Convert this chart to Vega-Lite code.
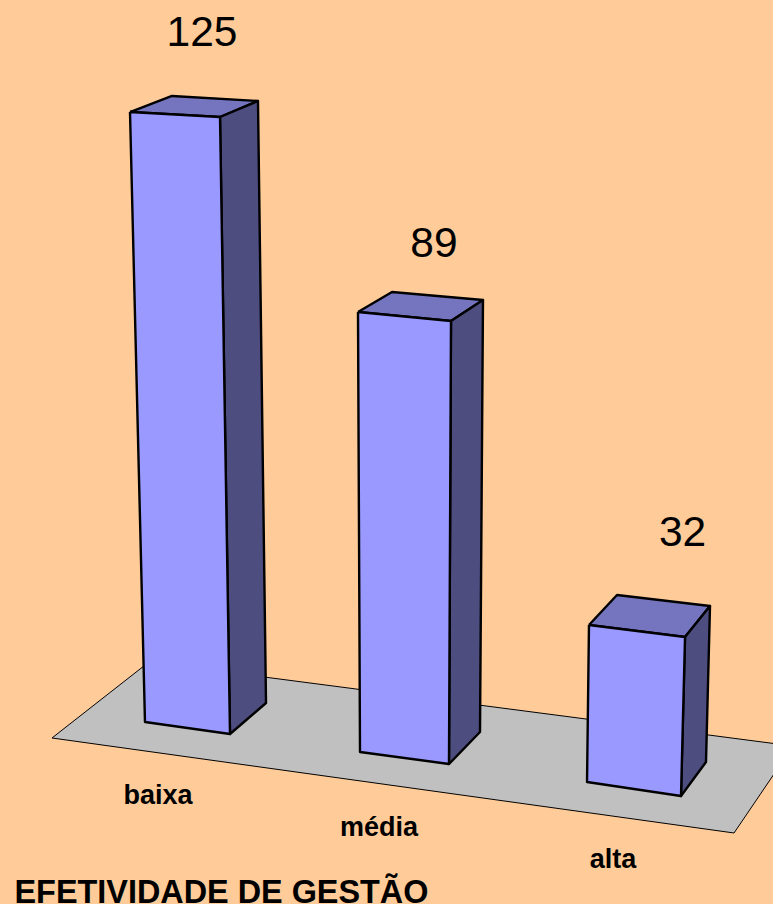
{"$schema":"https://vega.github.io/schema/vega-lite/v6.json","width":773,"height":904,"padding":0,"autosize":{"type":"none"},"background":"#FFCC99","config":{"view":{"stroke":null}},
"datasets":{
"faces":[
{"bar":"piso","face":"floor","v":1,"x":10.61,"y":33.88},{"bar":"piso","face":"floor","v":2,"x":30.41,"y":49.39},{"bar":"piso","face":"floor","v":3,"x":161.84,"y":32.24},{"bar":"piso","face":"floor","v":4,"x":149.80,"y":14.49},{"bar":"piso","face":"floor","v":5,"x":10.61,"y":33.88},
{"bar":"baixa","face":"top","v":1,"x":26.53,"y":161.63},{"bar":"baixa","face":"top","v":2,"x":35.10,"y":164.90},{"bar":"baixa","face":"top","v":3,"x":52.65,"y":163.88},{"bar":"baixa","face":"top","v":4,"x":44.90,"y":160.61},{"bar":"baixa","face":"top","v":5,"x":26.53,"y":161.63},
{"bar":"baixa","face":"side","v":1,"x":44.90,"y":160.61},{"bar":"baixa","face":"side","v":2,"x":52.65,"y":163.88},{"bar":"baixa","face":"side","v":3,"x":54.29,"y":41.02},{"bar":"baixa","face":"side","v":4,"x":46.94,"y":34.69},{"bar":"baixa","face":"side","v":5,"x":44.90,"y":160.61},
{"bar":"baixa","face":"front","v":1,"x":26.53,"y":161.63},{"bar":"baixa","face":"front","v":2,"x":44.90,"y":160.61},{"bar":"baixa","face":"front","v":3,"x":46.94,"y":34.69},{"bar":"baixa","face":"front","v":4,"x":29.59,"y":37.14},{"bar":"baixa","face":"front","v":5,"x":26.53,"y":161.63},
{"bar":"média","face":"top","v":1,"x":73.06,"y":120.82},{"bar":"média","face":"top","v":2,"x":80.00,"y":124.90},{"bar":"média","face":"top","v":3,"x":98.57,"y":123.27},{"bar":"média","face":"top","v":4,"x":92.04,"y":118.98},{"bar":"média","face":"top","v":5,"x":73.06,"y":120.82},
{"bar":"média","face":"side","v":1,"x":92.04,"y":118.98},{"bar":"média","face":"side","v":2,"x":98.57,"y":123.27},{"bar":"média","face":"side","v":3,"x":97.96,"y":35.10},{"bar":"média","face":"side","v":4,"x":91.63,"y":28.57},{"bar":"média","face":"side","v":5,"x":92.04,"y":118.98},
{"bar":"média","face":"front","v":1,"x":73.06,"y":120.82},{"bar":"média","face":"front","v":2,"x":92.04,"y":118.98},{"bar":"média","face":"front","v":3,"x":91.63,"y":28.57},{"bar":"média","face":"front","v":4,"x":73.47,"y":31.02},{"bar":"média","face":"front","v":5,"x":73.06,"y":120.82},
{"bar":"alta","face":"top","v":1,"x":120.20,"y":56.94},{"bar":"alta","face":"top","v":2,"x":125.92,"y":63.06},{"bar":"alta","face":"top","v":3,"x":144.90,"y":60.82},{"bar":"alta","face":"top","v":4,"x":139.80,"y":54.49},{"bar":"alta","face":"top","v":5,"x":120.20,"y":56.94},
{"bar":"alta","face":"side","v":1,"x":139.80,"y":54.49},{"bar":"alta","face":"side","v":2,"x":144.90,"y":60.82},{"bar":"alta","face":"side","v":3,"x":144.08,"y":28.98},{"bar":"alta","face":"side","v":4,"x":138.98,"y":22.04},{"bar":"alta","face":"side","v":5,"x":139.80,"y":54.49},
{"bar":"alta","face":"front","v":1,"x":120.20,"y":56.94},{"bar":"alta","face":"front","v":2,"x":139.80,"y":54.49},{"bar":"alta","face":"front","v":3,"x":138.98,"y":22.04},{"bar":"alta","face":"front","v":4,"x":119.80,"y":24.90},{"bar":"alta","face":"front","v":5,"x":120.20,"y":56.94}
],
"labels":[
{"kind":"value","text":"125","x":41.22,"y":175.10},{"kind":"value","text":"89","x":88.57,"y":132.04},{"kind":"value","text":"32","x":139.29,"y":73.06},
{"kind":"category","text":"baixa","x":32.24,"y":20.41},{"kind":"category","text":"média","x":77.35,"y":13.88},{"kind":"category","text":"alta","x":125.10,"y":7.35},
{"kind":"title","text":"EFETIVIDADE DE GESTÃO","x":2.96,"y":0.25}
]},
"encoding":{
"x":{"field":"x","type":"quantitative","scale":{"domain":[0,157.755],"nice":false,"zero":false},"axis":null},
"y":{"field":"y","type":"quantitative","scale":{"domain":[0,184.49],"nice":false,"zero":false},"axis":null}
},
"layer":[
{"data":{"name":"faces"},"transform":[{"filter":"datum.face==='floor'"}],"mark":{"type":"line","fill":"#C0C0C0","stroke":"#000000","strokeWidth":1,"clip":true},"encoding":{"detail":{"field":"bar"},"order":{"field":"v","type":"quantitative"}}},
{"data":{"name":"faces"},"transform":[{"filter":"datum.face==='top'"}],"mark":{"type":"line","fill":"#7575BF","stroke":"#000000","strokeWidth":2.4,"strokeJoin":"round"},"encoding":{"detail":{"field":"bar"},"order":{"field":"v","type":"quantitative"}}},
{"data":{"name":"faces"},"transform":[{"filter":"datum.face==='side'"}],"mark":{"type":"line","fill":"#4D4D80","stroke":"#000000","strokeWidth":2.4,"strokeJoin":"round"},"encoding":{"detail":{"field":"bar"},"order":{"field":"v","type":"quantitative"}}},
{"data":{"name":"faces"},"transform":[{"filter":"datum.face==='front'"}],"mark":{"type":"line","fill":"#9999FF","stroke":"#000000","strokeWidth":2.4,"strokeJoin":"round"},"encoding":{"detail":{"field":"bar"},"order":{"field":"v","type":"quantitative"}}},
{"data":{"name":"labels"},"transform":[{"filter":"datum.kind==='value'"}],"mark":{"type":"text","font":"Liberation Sans","fontSize":42.5,"align":"center","baseline":"alphabetic","color":"#000000"},"encoding":{"text":{"field":"text"}}},
{"data":{"name":"labels"},"transform":[{"filter":"datum.kind==='category'"}],"mark":{"type":"text","font":"Liberation Sans","fontWeight":"bold","fontSize":27,"align":"center","baseline":"alphabetic","color":"#000000"},"encoding":{"text":{"field":"text"}}},
{"data":{"name":"labels"},"transform":[{"filter":"datum.kind==='title'"}],"mark":{"type":"text","font":"Liberation Sans","fontWeight":"bold","fontSize":32.4,"align":"left","baseline":"alphabetic","color":"#000000"},"encoding":{"text":{"field":"text"}}}
]}
